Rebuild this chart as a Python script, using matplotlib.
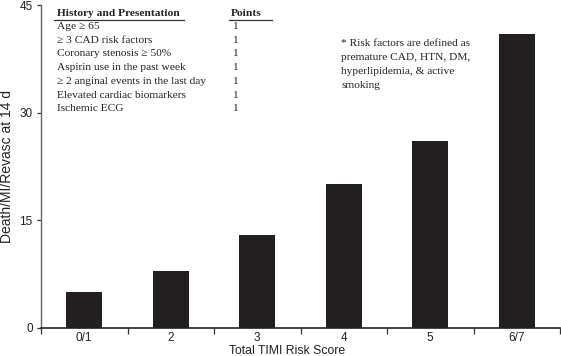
import matplotlib
matplotlib.use('Agg')
import matplotlib.pyplot as plt
import numpy as np

scores = ['0/1', '2', '3', '4', '5', '6/7']
event_rate = [5, 8, 13, 20, 26, 41]

table_items = ['Age \u2265 65', '\u2265 3 CAD risk factors', 'Coronary stenosis \u2265 50%',
               'Aspirin use in the past week', '\u2265 2 anginal events in the last day',
               'Elevated cardiac biomarkers', 'Ischemic ECG']
table_points = ['1', '1', '1', '1', '1', '1', '1']
note_lines = ['* Risk factors are defined as', 'premature CAD, HTN, DM,',
              'hyperlipidemia, & active', 'smoking']

W, H = 561, 356
fig = plt.figure(figsize=(W / 100, H / 100), dpi=100)
ax = fig.add_axes([41 / W, 1 - 328 / H, 519 / W, 323 / H])

x = np.arange(len(scores))
ax.bar(x, event_rate, width=0.42, color='#231f20')

ax.set_xlim(-0.5, len(scores) - 0.5)
ax.set_ylim(0, 45)
ax.set_yticks([0, 15, 30, 45])
ax.set_xticks(x)
ax.set_xticklabels(scores)
ax.set_xticks(np.arange(-0.5, len(scores)), minor=True)
ax.tick_params(axis='x', which='major', length=0, pad=3, labelsize=8.5, colors='#222222')
ax.tick_params(axis='x', which='minor', length=4, width=0.9, color='#333333')
ax.tick_params(axis='y', length=3, width=0.9, pad=3, labelsize=8.5, colors='#333333', labelcolor='#222222')
for lab in ax.get_xticklabels() + ax.get_yticklabels():
    lab.set_family('Liberation Sans')

for s in ['top', 'right']:
    ax.spines[s].set_visible(False)
ax.spines['left'].set_color('#666666')
ax.spines['bottom'].set_color('#222222')
ax.spines['left'].set_linewidth(1.0)
ax.spines['bottom'].set_linewidth(1.2)

ax.set_ylabel('Death/MI/Revasc at 14 d', family='Liberation Sans', fontsize=10, color='#222222', va='center')
ax.yaxis.set_label_coords(-33.5 / 519, 0.5)
ax.set_xlabel('Total TIMI Risk Score', family='Liberation Sans', fontsize=8.8, color='#222222', va='center')
ax.xaxis.set_label_coords((287.5 - 41) / 519, -23 / 323)

# risk score table (pixel positions -> figure fraction)
def fx(px):
    return px / W

def fy(py):
    return 1 - py / H

serif = 'Liberation Serif'
fig.text(fx(57), fy(13.5), 'History and Presentation', family=serif, weight='bold', fontsize=8.2,
         va='center', color='#222222')
fig.text(fx(231), fy(13.5), 'Points', family=serif, weight='bold', fontsize=8.2, va='center', color='#222222')
fig.add_artist(plt.Line2D([fx(54), fx(184)], [fy(20), fy(20)], color='#333333', lw=0.9))
fig.add_artist(plt.Line2D([fx(229), fx(272)], [fy(20), fy(20)], color='#333333', lw=0.9))
for i, (item, pt) in enumerate(zip(table_items, table_points)):
    yy = 26.5 + i * 13.7
    fig.text(fx(57), fy(yy), item, family=serif, fontsize=8.2, va='center', color='#222222')
    fig.text(fx(232), fy(yy), pt, family=serif, fontsize=8.2, va='center', color='#222222')

for i, line in enumerate(note_lines):
    fig.text(fx(341), fy(43 + i * 14), line, family=serif, fontsize=8.2, va='center', color='#222222')

fig.savefig('out.png', dpi=100)
